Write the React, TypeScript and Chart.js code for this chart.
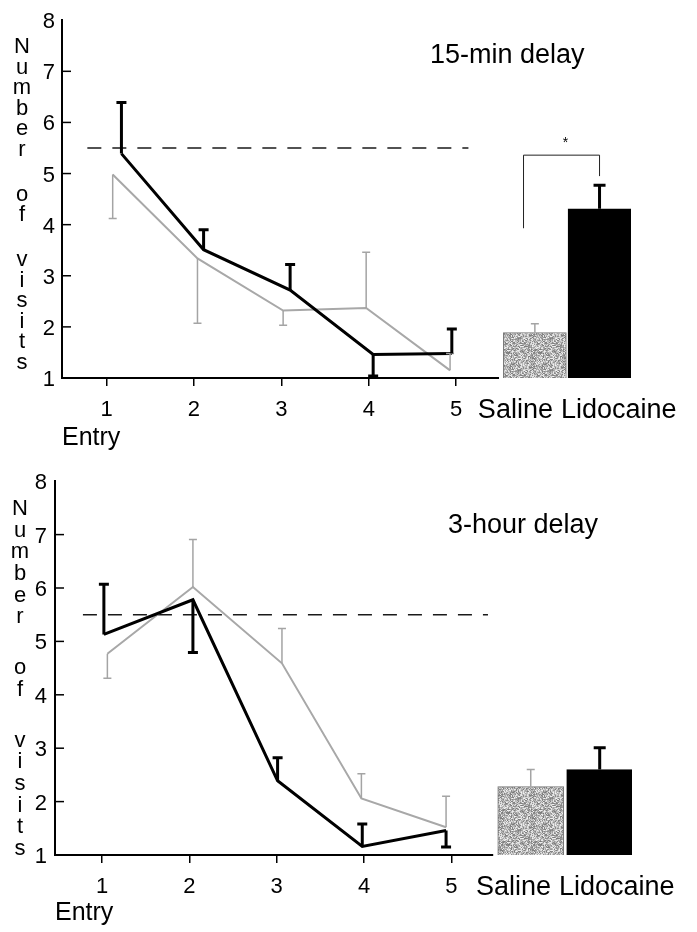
import React, { useEffect, useRef } from 'react';
import { Chart, registerables } from 'chart.js';

Chart.register(...registerables);

// ---------- data ----------
const entries = [1, 2, 3, 4, 5];
const groupLabels = ['Saline', 'Lidocaine'];
const chanceLevel = 5.5;
const yLetters = ['Number', 'of', 'visits'];

// 15-min delay panel
const min15LidoX = [1.17, 2.11, 3.1, 4.05, 4.95];
const min15LidoMean = [5.39, 3.51, 2.72, 1.46, 1.48];
const min15LidoErr = [1.0, 0.39, 0.5, -0.42, 0.48];
const min15SalX = [1.07, 2.04, 3.02, 3.97, 4.93];
const min15SalMean = [4.98, 3.34, 2.32, 2.37, 1.15];
const min15SalErr = [-0.86, -1.27, -0.29, 1.09, 0.33];
const min15BarX = [5.9, 6.64];
const min15BarMean = [1.89, 4.31];
const min15BarErr = [0.17, 0.46];
const min15ChanceX = [0.78, 5.14];
const min15Bracket = [3.93, 5.36, 4.95, 5.65]; // left foot, top, right foot, star

// 3-hour delay panel
const hr3LidoX = [1.02, 2.04, 3.01, 3.98, 4.94];
const hr3LidoMean = [5.13, 5.78, 2.39, 1.16, 1.46];
const hr3LidoErr = [0.94, -0.99, 0.43, 0.42, -0.31];
const hr3SalX = [1.06, 2.04, 3.06, 3.97, 4.94];
const hr3SalMean = [4.77, 6.02, 4.59, 2.06, 1.52];
const hr3SalErr = [-0.46, 0.89, 0.65, 0.46, 0.58];
const hr3BarX = [5.91, 6.7];
const hr3BarMean = [2.28, 2.6];
const hr3BarErr = [0.32, 0.41];
const hr3ChanceX = [0.78, 5.42];

const FONT = "'Liberation Sans', Arial, Helvetica, sans-serif";

type Layout = {
  width: number;
  height: number;
  top: number;
  padTop: number;
  padRight: number;
  padBottom: number;
  yAxisWidth: number;
  xAxisHeight: number;
  xMin: number;
  xMax: number;
  xAxisEnd: number;
  barThickness: number;
  titleDx: number;
  titleDy: number;
  letterX: number;
  letterFirst: number;
  letterStep: number;
  letterGap: number;
  yTickPad: number;
};

type PanelProps = {
  title: string;
  lidoX: number[];
  lidoMean: number[];
  lidoErr: number[];
  salX: number[];
  salMean: number[];
  salErr: number[];
  barX: number[];
  barMean: number[];
  barErr: number[];
  chanceX: number[];
  bracket?: number[];
  L: Layout;
};

function makeStipple(ctx: CanvasRenderingContext2D): CanvasPattern | string {
  const size = 32;
  const c = document.createElement('canvas');
  c.width = size;
  c.height = size;
  const g = c.getContext('2d');
  if (!g) return '#b0b0b0';
  const img = g.createImageData(size, size);
  let h = 2166136261;
  for (let i = 0; i < size * size; i++) {
    h ^= i * 16777619 + 7;
    h = Math.imul(h, 16777619) >>> 0;
    const v = 120 + ((h >>> 8) % 125);
    img.data[i * 4] = v;
    img.data[i * 4 + 1] = v;
    img.data[i * 4 + 2] = v;
    img.data[i * 4 + 3] = 255;
  }
  g.putImageData(img, 0, 0);
  return ctx.createPattern(c, 'repeat') || '#b0b0b0';
}

function Panel(p: PanelProps) {
  const ref = useRef<HTMLCanvasElement | null>(null);
  const L = p.L;

  useEffect(() => {
    const canvas = ref.current;
    if (!canvas) return;
    const ctx0 = canvas.getContext('2d');
    if (!ctx0) return;
    const stipple = makeStipple(ctx0);

    const decor = {
      id: 'decor',
      afterDatasetsDraw(chart: any) {
        const ctx: CanvasRenderingContext2D = chart.ctx;
        const xs = chart.scales.x;
        const ys = chart.scales.y;
        const area = chart.chartArea;
        ctx.save();
        ctx.lineCap = 'butt';

        // x axis line (only under the entry part)
        ctx.strokeStyle = '#000';
        ctx.lineWidth = 2;
        ctx.beginPath();
        ctx.moveTo(area.left - 1, area.bottom);
        ctx.lineTo(xs.getPixelForValue(L.xAxisEnd), area.bottom);
        ctx.stroke();

        // y inward ticks
        ctx.lineWidth = 1.5;
        for (let v = 2; v <= 7; v++) {
          const py = ys.getPixelForValue(v);
          ctx.beginPath();
          ctx.moveTo(area.left, py);
          ctx.lineTo(area.left + 9, py);
          ctx.stroke();
        }

        const errBar = (px: number, mean: number, err: number, color: string, w: number, cap: number) => {
          if (!err) return;
          const y0 = ys.getPixelForValue(mean);
          const y1 = ys.getPixelForValue(mean + err);
          ctx.strokeStyle = color;
          ctx.lineWidth = w;
          ctx.beginPath();
          ctx.moveTo(px, y0);
          ctx.lineTo(px, y1);
          ctx.moveTo(px - cap / 2, y1);
          ctx.lineTo(px + cap / 2, y1);
          ctx.stroke();
        };

        p.salX.forEach((x, i) => errBar(xs.getPixelForValue(x), p.salMean[i], p.salErr[i], '#a4a4a4', 1.5, 8));
        p.lidoX.forEach((x, i) => errBar(xs.getPixelForValue(x), p.lidoMean[i], p.lidoErr[i], '#000', 3, 10));

        const barMeta = chart.getDatasetMeta(2);
        const bars = barMeta.data as any[];
        bars.forEach((b, i) =>
          errBar(b.x, p.barMean[i], p.barErr[i], i === 0 ? '#a4a4a4' : '#000', i === 0 ? 1.5 : 3, i === 0 ? 8 : 12)
        );

        // significance bracket
        if (p.bracket && bars.length === 2) {
          const lx = bars[0].x - bars[0].width * 0.18;
          const rx = bars[1].x;
          ctx.strokeStyle = '#222';
          ctx.lineWidth = 1;
          ctx.beginPath();
          ctx.moveTo(lx, ys.getPixelForValue(p.bracket[0]));
          ctx.lineTo(lx, ys.getPixelForValue(p.bracket[1]));
          ctx.lineTo(rx, ys.getPixelForValue(p.bracket[1]));
          ctx.lineTo(rx, ys.getPixelForValue(p.bracket[2]));
          ctx.stroke();
          ctx.fillStyle = '#000';
          ctx.font = `14px ${FONT}`;
          ctx.textAlign = 'center';
          ctx.textBaseline = 'middle';
          ctx.fillText('*', (lx + rx) / 2 + 4, ys.getPixelForValue(p.bracket[3]) + 3);
        }

        // group labels under the bars
        if (bars.length === 2) {
          ctx.fillStyle = '#000';
          ctx.font = `27px ${FONT}`;
          ctx.textBaseline = 'alphabetic';
          const gap = 8;
          const w0 = ctx.measureText(groupLabels[0]).width;
          const w1 = ctx.measureText(groupLabels[1]).width;
          const total = w0 + gap + w1;
          const center = (bars[0].x - bars[0].width / 2 + bars[1].x + bars[1].width / 2) / 2 + 10;
          const start = center - total / 2;
          const base = area.bottom + 40;
          ctx.textAlign = 'left';
          ctx.fillText(groupLabels[0], start, base);
          ctx.fillText(groupLabels[1], start + w0 + gap, base);
        }

        // panel title
        ctx.fillStyle = '#000';
        ctx.font = `27px ${FONT}`;
        ctx.textAlign = 'left';
        ctx.textBaseline = 'alphabetic';
        ctx.fillText(p.title, area.left + L.titleDx, area.top + L.titleDy);

        // stacked y-axis label
        ctx.font = `22px ${FONT}`;
        ctx.textAlign = 'center';
        let y = area.top + L.letterFirst;
        yLetters.forEach((word, wi) => {
          for (let k = 0; k < word.length; k++) {
            ctx.fillText(word[k], L.letterX, y);
            if (k < word.length - 1) y += L.letterStep;
          }
          if (wi < yLetters.length - 1) y += L.letterGap;
        });

        ctx.restore();
      },
    };

    const chart = new Chart(canvas, {
      type: 'line',
      data: {
        datasets: [
          {
            type: 'line',
            label: 'Lidocaine',
            data: p.lidoX.map((x, i) => ({ x, y: p.lidoMean[i] })),
            borderColor: '#000',
            borderWidth: 3,
            pointRadius: 0,
            tension: 0,
          },
          {
            type: 'line',
            label: 'Saline',
            data: p.salX.map((x, i) => ({ x, y: p.salMean[i] })),
            borderColor: '#a8a8a8',
            borderWidth: 2,
            pointRadius: 0,
            tension: 0,
          },
          {
            type: 'bar',
            label: 'Groups',
            data: p.barX.map((x, i) => ({ x, y: p.barMean[i] })),
            base: 1,
            barThickness: L.barThickness,
            backgroundColor: [stipple, '#000'],
            borderColor: ['#777', '#000'],
            borderWidth: 1,
          } as any,
          {
            type: 'line',
            label: 'Chance',
            data: p.chanceX.map((x) => ({ x, y: chanceLevel })),
            borderColor: '#1a1a1a',
            borderWidth: 1.5,
            borderDash: [14, 11],
            pointRadius: 0,
          },
        ],
      },
      options: {
        animation: false,
        responsive: false,
        maintainAspectRatio: false,
        events: [],
        layout: { padding: { left: 0, right: L.padRight, top: L.padTop, bottom: L.padBottom } },
        plugins: { legend: { display: false }, tooltip: { enabled: false }, title: { display: false } },
        scales: {
          x: {
            type: 'linear',
            min: L.xMin,
            max: L.xMax,
            offset: false,
            afterBuildTicks: (s: any) => {
              s.ticks = entries.map((v) => ({ value: v }));
            },
            afterFit: (s: any) => {
              s.height = L.xAxisHeight;
            },
            ticks: {
              autoSkip: false,
              maxRotation: 0,
              padding: 12,
              color: '#000',
              font: { family: FONT, size: 22, lineHeight: '24px' },
              callback: (v: any) => String(v),
            },
            grid: {
              display: true,
              offset: false,
              drawOnChartArea: false,
              drawTicks: true,
              tickLength: 8,
              color: '#000',
              lineWidth: 1.5,
            },
            border: { display: false },
            title: {
              display: true,
              text: 'Entry',
              align: 'start',
              color: '#000',
              font: { family: FONT, size: 25 },
              padding: { top: 0, bottom: 0 },
            },
          },
          y: {
            type: 'linear',
            min: 1,
            max: 8,
            afterFit: (s: any) => {
              s.width = L.yAxisWidth;
            },
            ticks: {
              stepSize: 1,
              padding: L.yTickPad,
              labelOffset: 2,
              color: '#000',
              font: { family: FONT, size: 22 },
            },
            grid: { display: false, drawTicks: false },
            border: { display: true, color: '#000', width: 2 },
          },
        },
      } as any,
      plugins: [decor],
    });

    return () => chart.destroy();
  }, []);

  return (
    <canvas
      ref={ref}
      width={L.width}
      height={L.height}
      style={{ position: 'absolute', left: 0, top: L.top, width: L.width, height: L.height }}
    />
  );
}

const topLayout: Layout = {
  width: 697,
  height: 460,
  top: 0,
  padTop: 15,
  padRight: 66,
  padBottom: 7,
  yAxisWidth: 62,
  xAxisHeight: 75,
  xMin: 0.49,
  xMax: 7.0,
  xAxisEnd: 5.49,
  barThickness: 63,
  titleDx: 368,
  titleDy: 43,
  letterX: 22,
  letterFirst: 33,
  letterStep: 20.5,
  letterGap: 45,
  yTickPad: 7,
};

const bottomLayout: Layout = {
  width: 697,
  height: 472,
  top: 460,
  padTop: 18,
  padRight: 65,
  padBottom: 4,
  yAxisWidth: 55,
  xAxisHeight: 73,
  xMin: 0.46,
  xMax: 7.07,
  xAxisEnd: 5.48,
  barThickness: 66,
  titleDx: 393,
  titleDy: 52,
  letterX: 20,
  letterFirst: 34,
  letterStep: 21.6,
  letterGap: 51,
  yTickPad: 8,
};

export default function App() {
  return (
    <div style={{ position: 'absolute', left: 0, top: 0, width: 697, height: 932, background: '#fff' }}>
      <Panel
        title="15-min delay"
        lidoX={min15LidoX}
        lidoMean={min15LidoMean}
        lidoErr={min15LidoErr}
        salX={min15SalX}
        salMean={min15SalMean}
        salErr={min15SalErr}
        barX={min15BarX}
        barMean={min15BarMean}
        barErr={min15BarErr}
        chanceX={min15ChanceX}
        bracket={min15Bracket}
        L={topLayout}
      />
      <Panel
        title="3-hour delay"
        lidoX={hr3LidoX}
        lidoMean={hr3LidoMean}
        lidoErr={hr3LidoErr}
        salX={hr3SalX}
        salMean={hr3SalMean}
        salErr={hr3SalErr}
        barX={hr3BarX}
        barMean={hr3BarMean}
        barErr={hr3BarErr}
        chanceX={hr3ChanceX}
        L={bottomLayout}
      />
    </div>
  );
}
